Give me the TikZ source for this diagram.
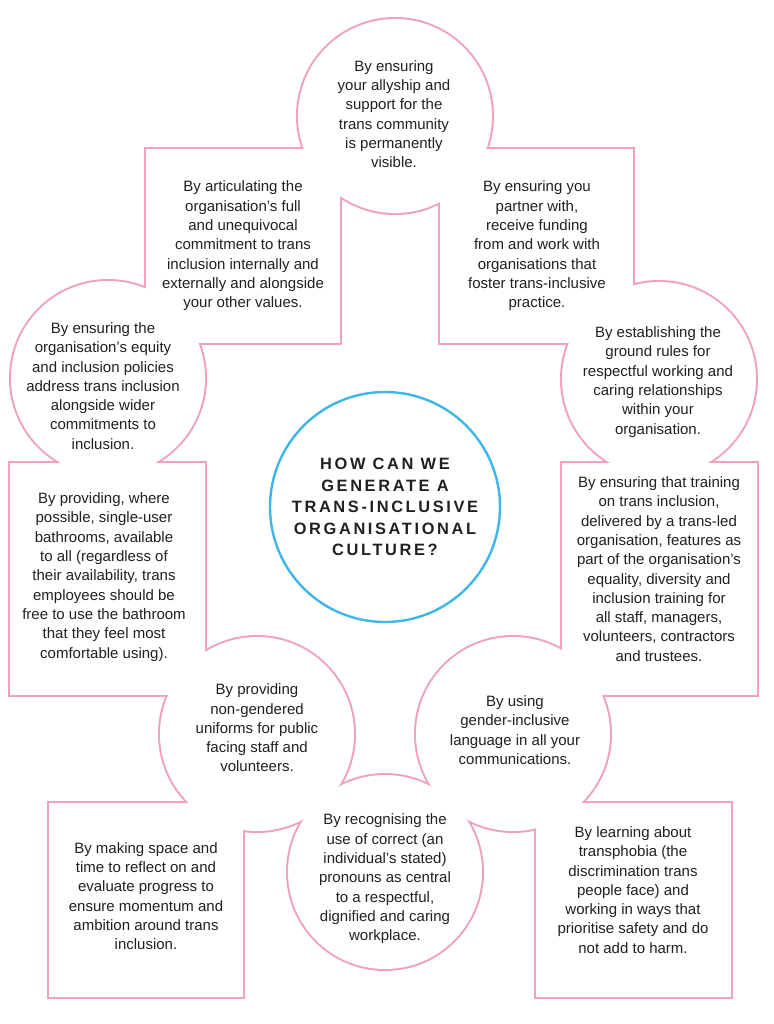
\documentclass[tikz,border=0pt]{standalone}
\usepackage{fontspec}
\setmainfont{Liberation Sans}
\newfontfamily\titlefont[LetterSpace=16]{Liberation Sans}
\usetikzlibrary{shapes}
\definecolor{rose}{RGB}{240,162,188}
\definecolor{sky}{RGB}{62,182,232}
\definecolor{ink}{RGB}{35,31,32}
\tikzstyle{idea} = [align=center, text=ink, inner sep=0pt,
    font={\fontsize{7.5}{9.65}\selectfont}]
\tikzstyle{hub} = [circle, draw=sky, line width=1.2pt, minimum size=115pt,
    inner sep=0pt, align=center, text=ink,
    font={\titlefont\bfseries\fontsize{8.2}{10.8}\selectfont}]
\tikzstyle{ring} = [draw=rose, line width=2pt]

\begin{document}
\begin{tikzpicture}[x=0.5pt,y=-0.5pt]
  \useasboundingbox (0,0) rectangle (774,1024);

  % outline: stroke every piece, then paint the inside white
  \foreach \cx/\cy in {395/116,108/378,659/379,257/734,385/872,513/734}
    \draw[ring] (\cx,\cy) circle [radius=97];
  \foreach \ax/\ay/\bx/\by in {146/149/340/343,440/149/633/343,10/463/205/695,
                               562/463/757/695,49/803/243/997,536/803/731/997}
    \draw[ring] (\ax,\ay) rectangle (\bx,\by);
  \foreach \cx/\cy in {395/116,108/378,659/379,257/734,385/872,513/734}
    \fill[white] (\cx,\cy) circle [radius=97];
  \foreach \ax/\ay/\bx/\by in {146/149/340/343,440/149/633/343,10/463/205/695,
                               562/463/757/695,49/803/243/997,536/803/731/997}
    \fill[white] (\ax,\ay) rectangle (\bx,\by);

  \node[hub]  (0)  at (385,507) {HOW CAN WE\\GENERATE A\\TRANS-INCLUSIVE\\ORGANISATIONAL\\CULTURE?};

  \node[idea] (1)  at (394,114) {By ensuring\\your allyship and\\support for the\\trans community\\is permanently\\visible.};
  \node[idea] (2)  at (243,246) {By articulating the\\organisation’s full\\and unequivocal\\commitment to trans\\inclusion internally and\\externally and alongside\\your other values.};
  \node[idea] (3)  at (537,246) {By ensuring you\\partner with,\\receive funding\\from and work with\\organisations that\\foster trans-inclusive\\practice.};
  \node[idea] (4)  at (103,386) {By ensuring the\\organisation’s equity\\and inclusion policies\\address trans inclusion\\alongside wider\\commitments to\\inclusion.};
  \node[idea] (5)  at (658,382) {By establishing the\\ground rules for\\respectful working and\\caring relationships\\within your\\organisation.};
  \node[idea] (6)  at (104,577) {By providing, where\\possible, single-user\\bathrooms, available\\to all (regardless of\\their availability, trans\\employees should be\\free to use the bathroom\\that they feel most\\comfortable using).};
  \node[idea] (7)  at (659,569) {By ensuring that training\\on trans inclusion,\\delivered by a trans-led\\organisation, features as\\part of the organisation’s\\equality, diversity and\\inclusion training for\\all staff, managers,\\volunteers, contractors\\and trustees.};
  \node[idea] (8)  at (257,728) {By providing\\non-gendered\\uniforms for public\\facing staff and\\volunteers.};
  \node[idea] (9)  at (515,730) {By using\\gender-inclusive\\language in all your\\communications.};
  \node[idea] (10) at (385,879) {By recognising the\\use of correct (an\\individual’s stated)\\pronouns as central\\to a respectful,\\dignified and caring\\workplace.};
  \node[idea] (11) at (146,896) {By making space and\\time to reflect on and\\evaluate progress to\\ensure momentum and\\ambition around trans\\inclusion.};
  \node[idea] (12) at (633,890) {By learning about\\transphobia (the\\discrimination trans\\people face) and\\working in ways that\\prioritise safety and do\\not add to harm.};
\end{tikzpicture}
\end{document}
